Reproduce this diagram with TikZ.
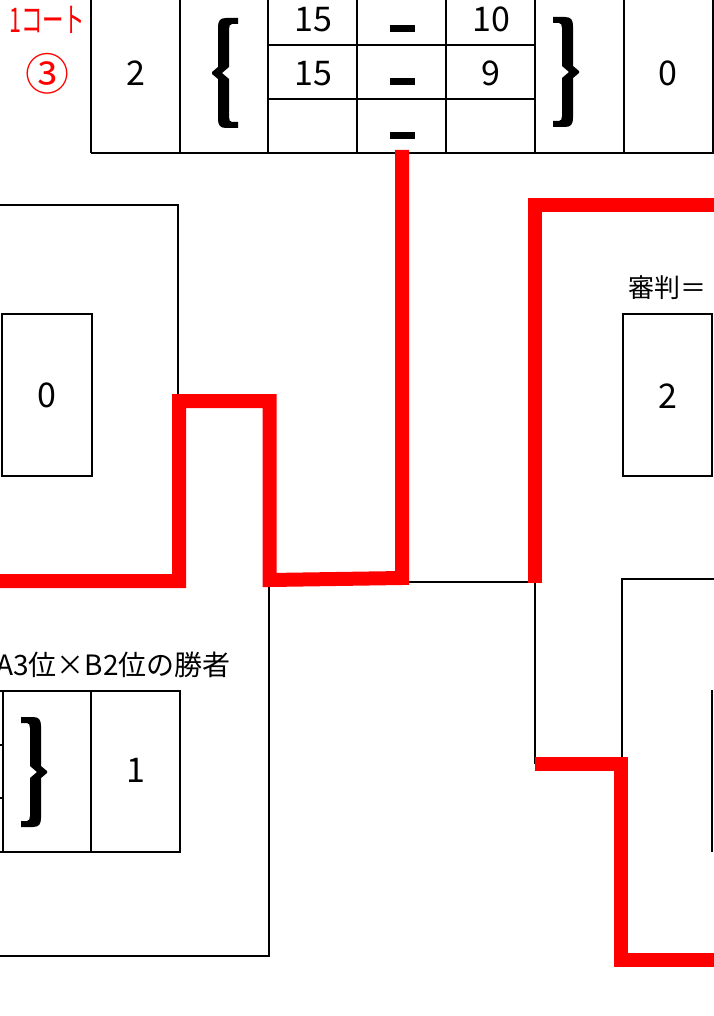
\documentclass[tikz,border=0pt]{standalone}
\usepackage{fontspec}
\setmainfont{Noto Sans CJK JP}
\begin{document}
\begin{tikzpicture}[x=1pt,y=-1pt,
  cell/.style={line width=1.1pt},
  wire/.style={line width=2pt},
  redwire/.style={draw=red, line width=14pt, line join=miter},
  num/.style={anchor=base, inner sep=0pt, font=\fontsize{34}{36}\selectfont},
  lab/.style={anchor=base, inner sep=0pt, font=\fontsize{26}{30}\selectfont},
  bar/.style={fill=black},
  bigbrace/.pic={\fill (26,-55) -- (14,-55) .. controls (8,-55) and (6,-52) .. (6,-46) -- (6,-6) -- (0,-1) -- (0,1) -- (6,6) -- (6,46) .. controls (6,52) and (8,55) .. (14,55) -- (26,55) -- (26,49) -- (20,49) .. controls (18,49) and (17,47) .. (17,44) -- (17,6) -- (10,0) -- (17,-6) -- (17,-44) .. controls (17,-47) and (18,-49) .. (20,-49) -- (26,-49) -- cycle;}
]
\useasboundingbox (0,0) rectangle (713,1016);

% ---- top table ----
\foreach \xx in {91,180,268,357,446,535,624,713}
  \draw[cell] (\xx,-5) -- (\xx,153);
\draw[cell] (91,153) -- (720,153);
\draw[cell] (268,45) -- (535,45);
\draw[cell] (268,99) -- (535,99);

\node[num] (s1a) at (313,32) {15};
\node[num] (s1b) at (491,32) {10};
\node[num] (s2a) at (313,86) {15};
\node[num] (s2b) at (491,86) {9};
\node[num] (wl) at (136,86) {2};
\node[num] (wr) at (668,86) {0};
\fill[bar] (390,25) rectangle (415,32);
\fill[bar] (390,78) rectangle (415,85);
\fill[bar] (390,132) rectangle (415,139);
\pic at (212,73) {bigbrace};
\pic[xscale=-1] at (579,72) {bigbrace};

\node[anchor=base west, inner sep=0pt, text=red, font=\fontsize{34}{36}\selectfont] (court) at (9,33) {\scalebox{0.63}[1]{1コート}};
\node[inner sep=0pt, text=red, font=\fontsize{44}{48}\selectfont] (num3) at (47,74) {③};

% ---- middle left box ----
\draw[wire] (-5,205) -- (178,205) -- (178,400);
\draw[cell] (2,314) rectangle (92,476);
\node[num] (ml) at (47,407) {0};

% ---- middle right box ----
\node[lab, anchor=base west] (ref) at (628,297) {審判＝};
\draw[cell] (623,314) rectangle (712,476);
\node[num] (mr) at (668,408) {2};

% ---- lower lines ----
\draw[wire] (269,580) -- (269,956) -- (-5,956);
\draw[wire] (402,582) -- (535,582) -- (535,764);
\draw[wire] (622,764) -- (622,579) -- (720,579);
\draw[cell] (712,690) -- (712,852);

% ---- bottom left table ----
\node[lab, anchor=base east, font=\fontsize{28}{30}\selectfont] (match) at (231,675) {A3位×B2位の勝者};
\draw[cell] (-5,691) -- (180,691) -- (180,852) -- (-5,852);
\draw[cell] (3,691) -- (3,852);
\draw[cell] (91,691) -- (91,852);
\draw[cell] (-5,745) -- (3,745);
\draw[cell] (-5,798) -- (3,798);
\pic[xscale=-1] at (47,772) {bigbrace};
\node[num] (bl) at (136,782) {1};

% ---- red winner lines ----
\coordinate (r1) at (-10,581);
\coordinate (r2) at (179,581);
\coordinate (r3) at (179,401);
\coordinate (r4) at (269.5,401);
\coordinate (r5) at (269.5,580);
\coordinate (r6) at (402,578);
\coordinate (r7) at (402,150);
\draw[redwire] (r1) -- (r2) -- (r3) -- (r4) -- (r5) -- (r6) -- (r7);

\coordinate (q1) at (720,205);
\coordinate (q2) at (535,205);
\coordinate (q3) at (535,583);
\draw[redwire] (q1) -- (q2) -- (q3);

\coordinate (p1) at (535,764);
\coordinate (p2) at (620.5,764);
\coordinate (p3) at (620.5,960);
\coordinate (p4) at (720,960);
\draw[redwire] (p1) -- (p2) -- (p3) -- (p4);
\end{tikzpicture}
\end{document}
